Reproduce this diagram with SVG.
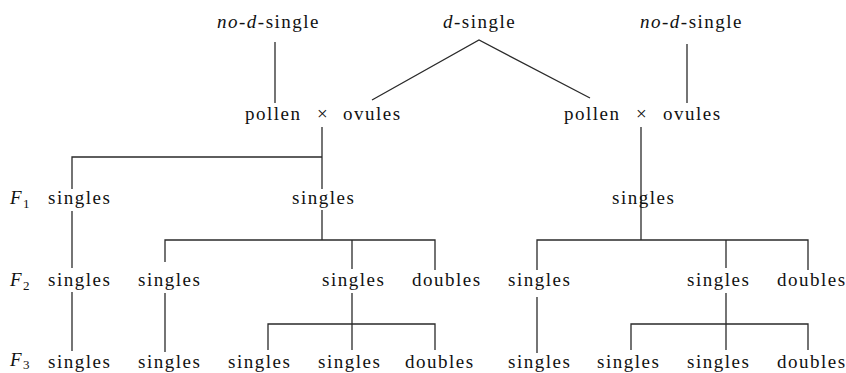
<svg xmlns="http://www.w3.org/2000/svg" width="846" height="373" viewBox="0 0 846 373">
<style>
text{font-family:"Liberation Serif","Times New Roman",serif;font-size:19px;letter-spacing:1.5px;fill:#111}
.i{font-style:italic}
.sub{font-size:13px;letter-spacing:0}
.c line,.c polyline{stroke:#2a2a2a;stroke-width:1.3;fill:none}
</style>
<rect width="846" height="373" fill="#fff"/>
<g class="c" id="connectors">
<line x1="275" y1="42" x2="275" y2="103"/>
<polyline points="372,100 479,40 590,98"/>
<line x1="687" y1="44" x2="687" y2="103"/>
<line x1="322" y1="127" x2="322" y2="189"/>
<polyline points="72,189 72,157 322,157"/>
<line x1="641" y1="127" x2="641" y2="240"/>
<line x1="322" y1="210" x2="322" y2="240"/>
<line x1="72" y1="211" x2="72" y2="268"/>
<polyline points="165,262 165,240 435,240 435,270"/>
<line x1="352" y1="240" x2="352" y2="269"/>
<polyline points="537,270 537,240 808,240 808,270"/>
<line x1="726" y1="240" x2="726" y2="268"/>
<line x1="72" y1="292" x2="72" y2="351"/>
<line x1="165" y1="293" x2="165" y2="352"/>
<line x1="352" y1="293" x2="352" y2="350"/>
<polyline points="268,350 268,324 435,324 435,350"/>
<line x1="537" y1="297" x2="537" y2="353"/>
<line x1="726" y1="293" x2="726" y2="350"/>
<polyline points="631,350 631,324 808,324 808,350"/>
</g>
<g id="p1"><text x="217" y="28"><tspan class="i">no</tspan>-<tspan class="i">d</tspan>-single</text></g>
<g id="p2"><text x="443" y="28"><tspan class="i">d</tspan>-single</text></g>
<g id="p3"><text x="640" y="28"><tspan class="i">no</tspan>-<tspan class="i">d</tspan>-single</text></g>
<g id="cross1"><text x="245" y="120">pollen</text><text x="317" y="120">×</text><text x="343" y="120">ovules</text></g>
<g id="cross2"><text x="564" y="120">pollen</text><text x="636" y="120">×</text><text x="663" y="120">ovules</text></g>
<g id="labels">
<text x="10" y="204"><tspan class="i">F</tspan><tspan class="sub" dy="4">1</tspan></text>
<text x="10" y="286"><tspan class="i">F</tspan><tspan class="sub" dy="4">2</tspan></text>
<text x="10" y="366"><tspan class="i">F</tspan><tspan class="sub" dy="3">3</tspan></text>
</g>
<g id="f1">
<text x="48" y="204">singles</text>
<text x="292" y="204">singles</text>
<text x="612" y="204">singles</text>
</g>
<g id="f2">
<text x="48" y="286">singles</text>
<text x="138" y="286">singles</text>
<text x="322" y="286">singles</text>
<text x="412" y="286">doubles</text>
<text x="508" y="286">singles</text>
<text x="687" y="286">singles</text>
<text x="777" y="286">doubles</text>
</g>
<g id="f3">
<text x="48" y="368">singles</text>
<text x="138" y="368">singles</text>
<text x="228" y="368">singles</text>
<text x="318" y="368">singles</text>
<text x="405" y="368">doubles</text>
<text x="508" y="368">singles</text>
<text x="597" y="368">singles</text>
<text x="687" y="368">singles</text>
<text x="777" y="368">doubles</text>
</g>
</svg>
